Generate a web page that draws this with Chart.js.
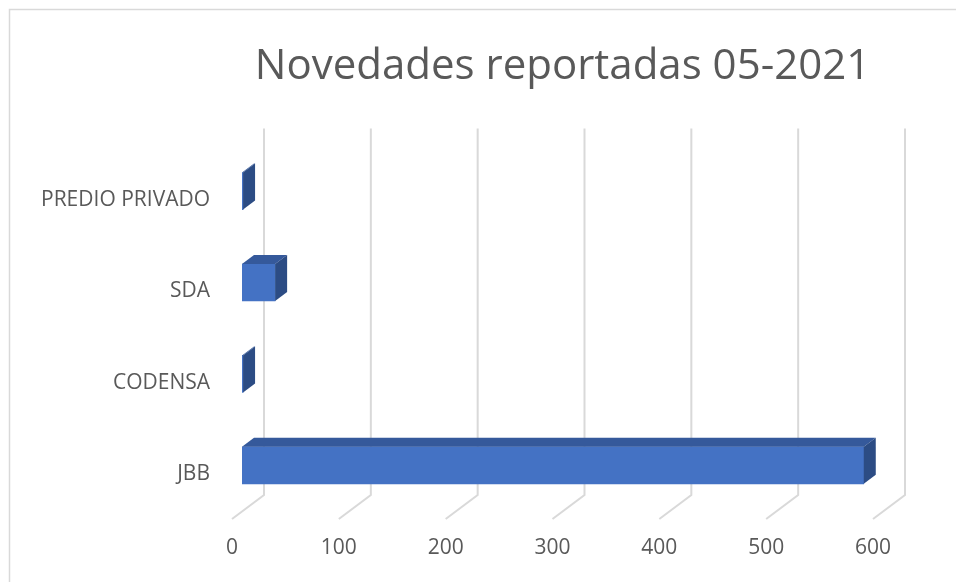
<!DOCTYPE html>
<html>
<head>
<meta charset="utf-8">
<script src="https://cdn.jsdelivr.net/npm/chart.js@4"></script>
<style>
  html, body { margin: 0; padding: 0; background: #ffffff; }
  #wrap { width: 956px; height: 582px; }
</style>
</head>
<body>
<div id="wrap"><canvas id="graph-canva" width="956" height="582"></canvas></div>
<script>
const canva = document.getElementById("graph-canva");

const categorias = ['PREDIO PRIVADO', 'SDA', 'CODENSA', 'JBB'];
const novedades = [1, 31, 1, 582];
const ticksX = [0, 100, 200, 300, 400, 500, 600];

// 3d look of excel chart
const depthX = 12, depthY = 9;
const wallX = 22, floorX = -10;

const borderPlugin = {
  id: 'marco',
  beforeDraw(chart) {
    const ctx = chart.ctx;
    ctx.save();
    ctx.fillStyle = '#ffffff';
    ctx.fillRect(0, 0, chart.width, chart.height);
    ctx.strokeStyle = '#d9d9d9';
    ctx.lineWidth = 1.5;
    ctx.strokeRect(9.5, 9.5, chart.width + 20, chart.height + 20);
    ctx.restore();
  }
};

const gridPlugin = {
  id: 'grid3d',
  beforeDatasetsDraw(chart) {
    const ctx = chart.ctx;
    const area = chart.chartArea;
    const sx = chart.scales.x;
    ctx.save();
    ctx.strokeStyle = '#d9d9d9';
    ctx.lineWidth = 2;
    ticksX.forEach(v => {
      const px = sx.getPixelForValue(v);
      ctx.beginPath();
      ctx.moveTo(px + wallX, area.top - 17);
      ctx.lineTo(px + wallX, area.bottom - 16);
      ctx.lineTo(px + floorX, area.bottom + 8);
      ctx.stroke();
    });
    ctx.restore();
  }
};

const barPlugin = {
  id: 'bar3d',
  afterDatasetsDraw(chart) {
    const ctx = chart.ctx;
    const meta = chart.getDatasetMeta(0);
    ctx.save();
    meta.data.forEach(bar => {
      const x0 = bar.base, x1 = bar.x;
      const y0 = bar.y - bar.height / 2, y1 = bar.y + bar.height / 2;
      // top face
      ctx.fillStyle = '#35599b';
      ctx.beginPath();
      ctx.moveTo(x0, y0);
      ctx.lineTo(x1, y0);
      ctx.lineTo(x1 + depthX, y0 - depthY);
      ctx.lineTo(x0 + depthX, y0 - depthY);
      ctx.closePath();
      ctx.fill();
      // side face
      ctx.fillStyle = '#2c4c84';
      ctx.beginPath();
      ctx.moveTo(x1, y0);
      ctx.lineTo(x1 + depthX, y0 - depthY);
      ctx.lineTo(x1 + depthX, y1 - depthY);
      ctx.lineTo(x1, y1);
      ctx.closePath();
      ctx.fill();
    });
    ctx.restore();
  }
};

const config = {
  type: 'bar',
  data: {
    labels: categorias,
    datasets: [{
      label: 'Novedades',
      data: novedades,
      backgroundColor: '#4472c4',
      borderWidth: 0,
      barThickness: 37
    }]
  },
  options: {
    indexAxis: 'y',
    responsive: false,
    animation: false,
    layout: { padding: { left: 0, right: 73, top: 0, bottom: 0 } },
    plugins: {
      legend: { display: false },
      tooltip: { enabled: false },
      title: {
        display: true,
        fullSize: false,
        text: 'Novedades reportadas 05-2021',
        color: '#595959',
        font: { family: 'Open Sans', size: 42, weight: 'normal', lineHeight: 1.2 },
        padding: { top: 42, bottom: 53 }
      }
    },
    scales: {
      x: {
        min: 0,
        max: 600,
        afterBuildTicks(scale) {
          scale.ticks = ticksX.map(v => ({ value: v }));
        },
        afterFit(scale) { scale.height = 71; },
        grid: { display: false, drawTicks: false },
        border: { display: false },
        ticks: {
          color: '#595959',
          font: { family: 'Open Sans', size: 21 },
          padding: 24,
          labelOffset: -10,
          maxRotation: 0
        }
      },
      y: {
        afterFit(scale) { scale.width = 242; },
        grid: { display: false, drawTicks: false },
        border: { display: false },
        ticks: {
          color: '#595959',
          font: { family: 'Open Sans', size: 21 },
          padding: 32,
          labelOffset: 9
        }
      }
    }
  },
  plugins: [borderPlugin, gridPlugin, barPlugin]
};

let chart = new Chart(canva, config);
</script>
</body>
</html>
